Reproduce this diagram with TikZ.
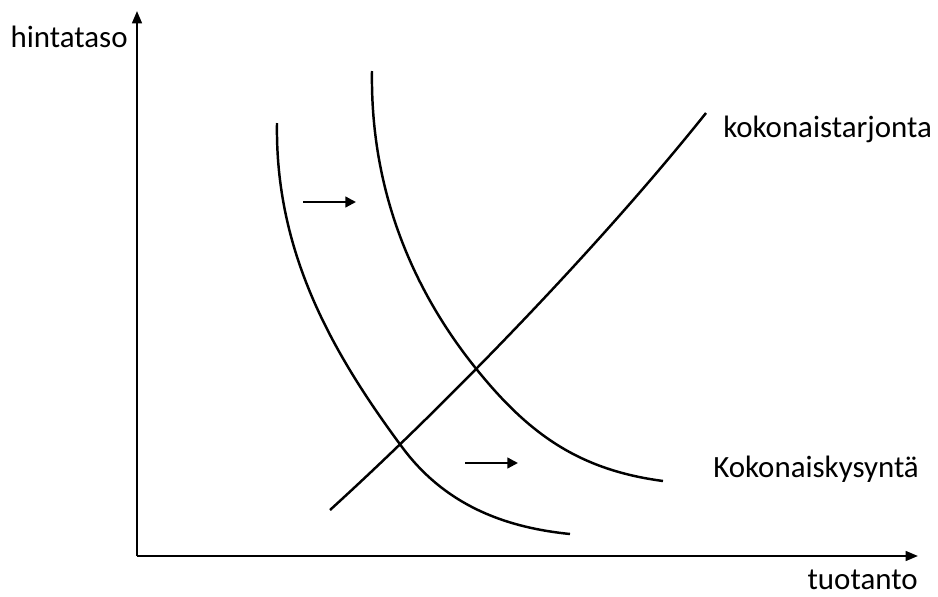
\documentclass[tikz,border=0pt]{standalone}
\usepackage{fontspec}
\setmainfont{Carlito}
\usepackage{tikz}
\usetikzlibrary{arrows.meta}

\begin{document}
\begin{tikzpicture}[
      x=0.02cm, y=-0.02cm,
      axis/.style={-{Triangle[length=7pt, width=5.5pt]}, line width=1.3pt},
      curve/.style={line width=1.4pt},
      shift arr/.style={-{Triangle[length=6pt, width=6pt]}, line width=1.3pt},
      lbl/.style={inner sep=0pt, font=\fontsize{17.6}{21}\selectfont}
    ]
    \useasboundingbox (0,0) rectangle (938,596);

    % axes
    \coordinate (orig) at (137,556);
    \coordinate (ytop) at (137,11);
    \coordinate (xend) at (918,556);
    \draw[axis] (orig) -- (ytop);
    \draw[axis] (orig) -- (xend);
    \node[lbl, anchor=base east] (hinta) at (128,47) {hintataso};
    \node[lbl, anchor=base east] (tuot) at (918,589) {tuotanto};

    % demand curves
    \coordinate (d1a) at (277,123);
    \coordinate (d1m) at (402,447);
    \coordinate (d1b) at (570,534);
    \draw[curve] (d1a) .. controls (275,250) and (330,350) .. (d1m)
      .. controls (447,508) and (510,528) .. (d1b);
    \coordinate (d2a) at (372,71);
    \coordinate (d2m) at (478,371);
    \coordinate (d2b) at (663,481);
    \draw[curve] (d2a) .. controls (370,200) and (420,300) .. (d2m)
      .. controls (530,435) and (580,470) .. (d2b);

    % supply
    \coordinate (sa) at (330,510);
    \coordinate (sb) at (706,113);
    \draw[curve] (sa) .. controls (440,410) and (595,252) .. (sb);

    \node[lbl, anchor=base west] (tarj) at (723,137) {kokonaistarjonta};
    \node[lbl, anchor=base west] (kys) at (713,477) {Kokonaiskysyntä};

    % shift arrows
    \coordinate (a1) at (303,202);
    \coordinate (b1) at (356,202);
    \coordinate (a2) at (465,463);
    \coordinate (b2) at (518,463);
    \draw[shift arr] (a1) -- (b1);
    \draw[shift arr] (a2) -- (b2);
  \end{tikzpicture}
\end{document}
